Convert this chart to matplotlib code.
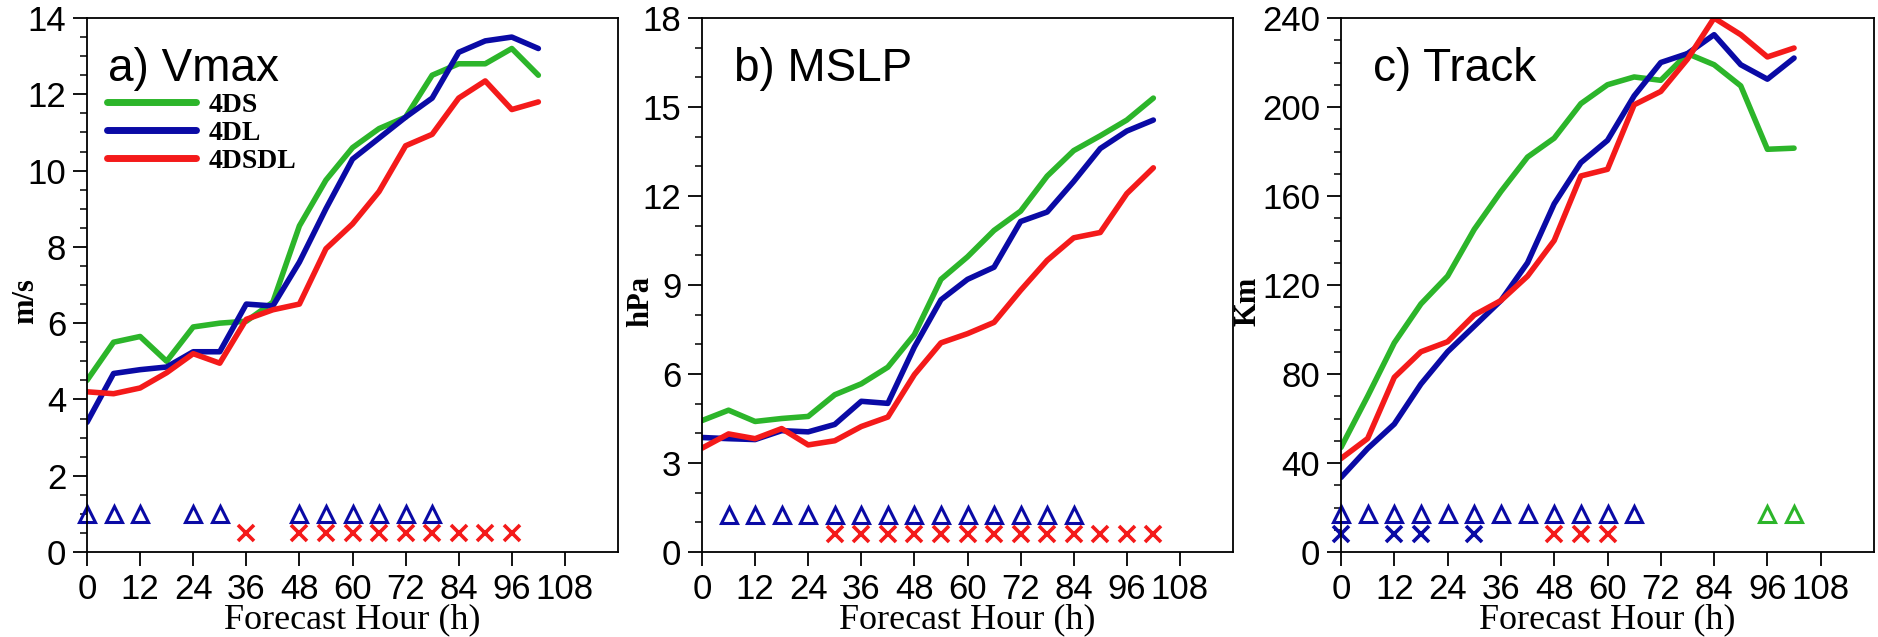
import numpy as np
import matplotlib
matplotlib.use("Agg")
import matplotlib.pyplot as plt
from matplotlib.ticker import MultipleLocator

# forecast hours (6-hourly)
hours = list(range(0, 103, 6))

# a) Vmax (m/s)
vmax_4ds = [4.5, 5.5, 5.65, 5.0, 5.9, 6.0, 6.05, 6.55, 8.55, 9.75, 10.6, 11.1, 11.4, 12.5, 12.8, 12.8, 13.2, 12.5]
vmax_4dl = [3.4, 4.68, 4.78, 4.85, 5.25, 5.25, 6.5, 6.45, 7.6, 9.0, 10.3, 10.85, 11.4, 11.9, 13.1, 13.4, 13.5, 13.2]
vmax_4dsdl = [4.2, 4.15, 4.3, 4.7, 5.2, 4.95, 6.1, 6.35, 6.5, 7.95, 8.6, 9.45, 10.65, 10.95, 11.9, 12.35, 11.6, 11.8]

# b) MSLP (hPa)
mslp_4ds = [4.43, 4.78, 4.4, 4.5, 4.57, 5.3, 5.67, 6.23, 7.33, 9.19, 9.95, 10.84, 11.49, 12.67, 13.53, 14.03, 14.56, 15.3]
mslp_4dl = [3.86, 3.82, 3.79, 4.09, 4.05, 4.3, 5.08, 5.01, 6.91, 8.5, 9.19, 9.6, 11.14, 11.46, 12.49, 13.6, 14.19, 14.56]
mslp_4dsdl = [3.5, 3.98, 3.82, 4.16, 3.61, 3.75, 4.23, 4.55, 5.98, 7.05, 7.36, 7.74, 8.82, 9.83, 10.59, 10.77, 12.08, 12.95]

# c) Track error (Km)
track_4ds = [47, 70, 94, 111.5, 124, 145, 162, 177.5, 186, 201.5, 210, 213.5, 212, 224, 219, 209.5, 181, 181.5]
track_4dl = [33.5, 46.5, 57.5, 75.5, 90, 101.5, 113, 130, 156.5, 175, 185, 205, 220, 224, 232.5, 219, 212.5, 222]
track_4dsdl = [42, 51, 78.5, 90, 94.5, 106.5, 113, 124, 140, 169, 172, 201, 207, 221.5, 240, 232.5, 222.5, 226.5]

# significance markers: hours and the level they are drawn at
vmax_tri_blue = [0, 6, 12, 24, 30, 48, 54, 60, 66, 72, 78]
vmax_x_red = [36, 48, 54, 60, 66, 72, 78, 84, 90, 96]
mslp_tri_blue = [6, 12, 18, 24, 30, 36, 42, 48, 54, 60, 66, 72, 78, 84]
mslp_x_red = [30, 36, 42, 48, 54, 60, 66, 72, 78, 84, 90, 96, 102]
track_tri_blue = [0, 6, 12, 18, 24, 30, 36, 42, 48, 54, 60, 66]
track_tri_green = [96, 102]
track_x_blue = [0, 12, 18, 30]
track_x_red = [48, 54, 60]

GREEN = "#2cb52a"
BLUE = "#0a0aa5"
RED = "#f41a1a"

SANS = ["Liberation Sans", "DejaVu Sans"]
SERIF = ["Liberation Serif", "DejaVu Serif"]

fig = plt.figure(figsize=(18.78, 6.37), dpi=100)
W, H = 1878, 637
boxes = [(87, 618), (702, 1233), (1341, 1874)]
top, bottom = 18, 552

panels = [
    dict(title="a) Vmax", ylabel="m/s", ymax=14, major=2, minor=0.5,
         lines=(vmax_4ds, vmax_4dl, vmax_4dsdl),
         marks=[(vmax_tri_blue, 1.0, "^", BLUE), (vmax_x_red, 0.5, "x", RED)],
         ylab_x=-0.088, title_x=0.04),
    dict(title="b) MSLP", ylabel="hPa", ymax=18, major=3, minor=1,
         lines=(mslp_4ds, mslp_4dl, mslp_4dsdl),
         marks=[(mslp_tri_blue, 1.25, "^", BLUE), (mslp_x_red, 0.6, "x", RED)],
         ylab_x=-0.089, title_x=0.06),
    dict(title="c) Track", ylabel="Km", ymax=240, major=40, minor=10,
         lines=(track_4ds, track_4dl, track_4dsdl),
         marks=[(track_tri_blue, 17, "^", BLUE), (track_tri_green, 17, "^", GREEN),
                (track_x_blue, 8, "x", BLUE), (track_x_red, 8, "x", RED)],
         ylab_x=-0.148, title_x=0.06),
]

for (x0, x1), p in zip(boxes, panels):
    ax = fig.add_axes([x0 / W, (H - bottom) / H, (x1 - x0) / W, (bottom - top) / H])
    g, b, r = p["lines"]
    ax.plot(hours, g, color=GREEN, lw=4, label="4DS", solid_capstyle="round")
    ax.plot(hours, b, color=BLUE, lw=4, label="4DL", solid_capstyle="round")
    ax.plot(hours, r, color=RED, lw=4, label="4DSDL", solid_capstyle="round")

    for xs, level, m, c in p["marks"]:
        ys = [level] * len(xs)
        if m == "^":
            ax.plot(xs, ys, ls="none", marker="^", ms=12, mfc="none", mec=c, mew=2.2, clip_on=False)
        else:
            ax.plot(xs, ys, ls="none", marker="x", ms=11, mec=c, mew=2.6, clip_on=False)

    ax.set_xlim(0, 120)
    ax.set_ylim(0, p["ymax"])
    ax.set_xticks(range(0, 109, 12))
    ax.yaxis.set_major_locator(MultipleLocator(p["major"]))
    ax.yaxis.set_minor_locator(MultipleLocator(p["minor"]))
    ax.tick_params(axis="both", which="major", direction="out", length=10, width=1.3,
                   labelsize=25, pad=5)
    ax.tick_params(axis="y", which="minor", direction="out", length=5, width=1.1)
    ax.tick_params(axis="x", which="minor", bottom=False)
    for lab in ax.get_xticklabels() + ax.get_yticklabels():
        lab.set_family(SANS)
    for sp in ax.spines.values():
        sp.set_linewidth(1.3)

    ax.set_xlabel("Forecast Hour (h)", family=SERIF, fontsize=26, labelpad=-2)
    ax.set_ylabel(p["ylabel"], family=SERIF, fontsize=22, fontweight="bold")
    ax.yaxis.set_label_coords(p["ylab_x"], 0.47)
    ax.text(p["title_x"], 0.905, p["title"], transform=ax.transAxes, family=SANS,
            fontsize=33, va="center", ha="left")

    if p["title"].startswith("a"):
        leg = ax.legend(loc="upper left", bbox_to_anchor=(0.038, 0.86), frameon=False,
                        prop={"family": SERIF, "weight": "bold", "size": 20},
                        handlelength=3.2, handletextpad=0.45, labelspacing=0.08,
                        borderpad=0, borderaxespad=0)
        for ln in leg.get_lines():
            ln.set_linewidth(5)

fig.savefig("out.png", dpi=100)
